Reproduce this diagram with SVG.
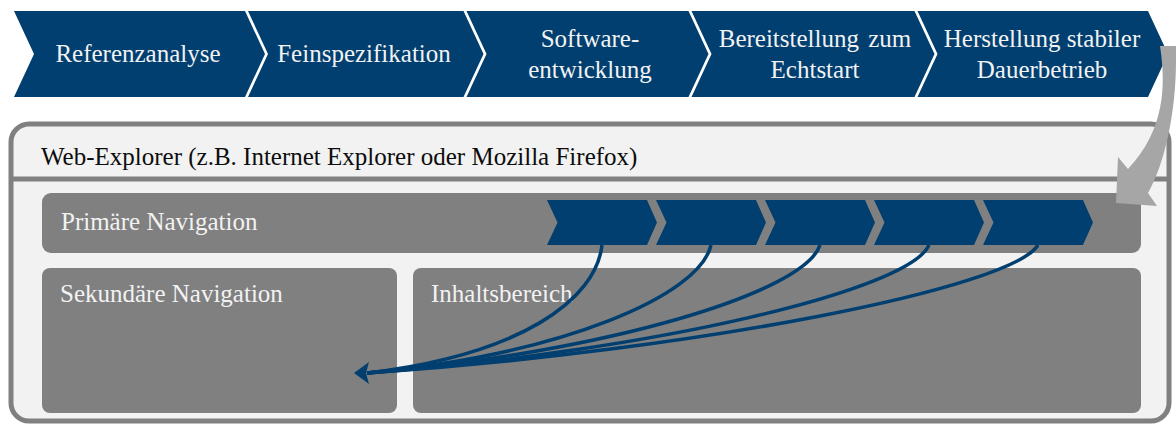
<svg xmlns="http://www.w3.org/2000/svg" width="1176" height="424" viewBox="0 0 1176 424">
  <style>
    .band { fill: #003f70; }
    .phase { font-family: "Liberation Serif", "Times New Roman", serif; font-size: 25px; fill: #f2f2f2; text-anchor: middle; }
    .label { font-family: "Liberation Serif", "Times New Roman", serif; font-size: 25px; fill: #f2f2f2; }
    .title { font-family: "Liberation Serif", "Times New Roman", serif; font-size: 25px; fill: #0d0d0d; }
    .panel { fill: #808080; }
    .step { fill: #003f70; }
    .link { fill: none; stroke: #003f70; stroke-width: 3.5; }
  </style>

  <rect x="0" y="0" width="1176" height="424" fill="#ffffff"/>

  <!-- Process phases -->
  <g id="phase-referenzanalyse">
    <polygon class="band" points="14,11 245,11 265,54 245,97 14,97 34,54"/>
    <text class="phase" x="138" y="62">Referenzanalyse</text>
  </g>
  <g id="phase-feinspezifikation">
    <polygon class="band" points="248,11 463.5,11 483.5,54 463.5,97 248,97 268,54"/>
    <text class="phase" x="364" y="62">Feinspezifikation</text>
  </g>
  <g id="phase-softwareentwicklung">
    <polygon class="band" points="466.5,11 688.5,11 708.5,54 688.5,97 466.5,97 486.5,54"/>
    <text class="phase" x="590" y="47">Software-</text>
    <text class="phase" x="590" y="78">entwicklung</text>
  </g>
  <g id="phase-bereitstellung">
    <polygon class="band" points="691.5,11 914.5,11 934.5,54 914.5,97 691.5,97 711.5,54"/>
    <text class="phase" x="815" y="47" word-spacing="3">Bereitstellung zum</text>
    <text class="phase" x="815" y="78">Echtstart</text>
  </g>
  <g id="phase-dauerbetrieb">
    <polygon class="band" points="917.5,11 1148,11 1168,54 1148,97 917.5,97 937.5,54"/>
    <text class="phase" x="1042" y="47">Herstellung stabiler</text>
    <text class="phase" x="1042" y="78">Dauerbetrieb</text>
  </g>

  <!-- Browser window -->
  <g id="browser-window">
    <rect x="11" y="124" width="1158" height="297" rx="18" ry="18" fill="#f2f2f2" stroke="#808080" stroke-width="5"/>
    <line x1="11" y1="179" x2="1169" y2="179" stroke="#808080" stroke-width="5"/>
    <text class="title" x="41" y="165">Web-Explorer (z.B. Internet Explorer oder Mozilla Firefox)</text>
  </g>

  <g id="primary-navigation">
    <rect class="panel" x="42" y="193" width="1099" height="60" rx="9" ry="9"/>
    <text class="label" x="61" y="230">Primäre Navigation</text>
  </g>

  <g id="secondary-navigation">
    <rect class="panel" x="42" y="268" width="355" height="145" rx="8" ry="8"/>
    <text class="label" x="60" y="302">Sekundäre Navigation</text>
  </g>

  <g id="content-area">
    <rect class="panel" x="413" y="268" width="728" height="145" rx="8" ry="8"/>
    <text class="label" x="431" y="302">Inhaltsbereich</text>
  </g>

  <!-- Menu entries inside the primary navigation -->
  <g id="menu-1"><polygon class="step" points="547,200 647,200 657,222.5 647,245 547,245 557.5,222.5"/></g>
  <g id="menu-2"><polygon class="step" points="656,200 756,200 766,222.5 756,245 656,245 666.5,222.5"/></g>
  <g id="menu-3"><polygon class="step" points="765,200 865,200 875,222.5 865,245 765,245 775.5,222.5"/></g>
  <g id="menu-4"><polygon class="step" points="874,200 974,200 984,222.5 974,245 874,245 884.5,222.5"/></g>
  <g id="menu-5"><polygon class="step" points="983,200 1083,200 1093,222.5 1083,245 983,245 993.5,222.5"/></g>

  <!-- Connectors -->
  <g id="connectors">
    <path class="link" d="M602,245 C596,300 520,355 367,373"/>
    <path class="link" d="M711,245 C700,295 565,354 367,373"/>
    <path class="link" d="M820,245 C805,292 610,352 367,373"/>
    <path class="link" d="M929,245 C910,290 655,351 367,373"/>
    <path class="link" d="M1038,245 C1012,288 700,350 367,373"/>
    <polygon fill="#003f70" points="354,373 369,362 366,373 369,384"/>

    <!-- phase band mapped onto the navigation -->
    <path fill="#a6a6a6" d="M1160,46 C1166,85 1165,130 1128,169 L1118,157 L1116,203 L1157,206 L1148,193 C1164,165 1176,115 1176,60 L1176,46 Z"/>
  </g>
</svg>
